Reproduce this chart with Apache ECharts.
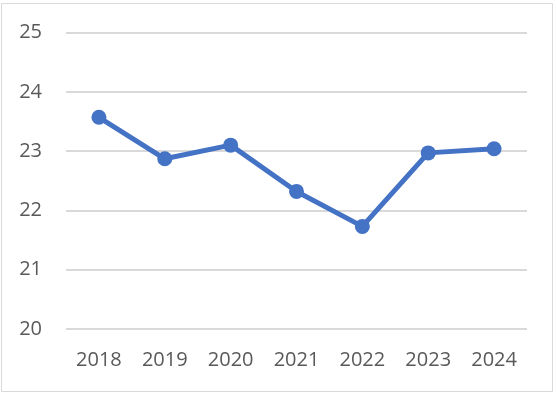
<!DOCTYPE html>
<html>
<head>
<meta charset="utf-8">
<script src="https://cdn.jsdelivr.net/npm/echarts@6/dist/echarts.min.js"></script>
<style>html,body{margin:0;padding:0;background:#fff;}#c{width:557px;height:394px;}</style>
</head>
<body>
<div id="c"></div>
<script>
var categories = ['2018','2019','2020','2021','2022','2023','2024'];
var values = [23.57, 22.87, 23.10, 22.32, 21.73, 22.97, 23.04];
var yTicks = [20, 21, 22, 23, 24, 25];

var chart = echarts.init(document.getElementById('c'));
chart.setOption({
  animation: false,
  backgroundColor: '#ffffff',
  graphic: [{
    type: 'rect',
    shape: {x: 1.5, y: 3.5, width: 551, height: 388},
    style: {fill: 'none', stroke: '#d9d9d9', lineWidth: 1},
    silent: true
  }],
  grid: {left: 66, right: 30, top: 32.5, bottom: 65, containLabel: false},
  xAxis: {
    type: 'category',
    data: categories,
    boundaryGap: true,
    axisLine: {show: false},
    axisTick: {show: false},
    axisLabel: {color: '#595959', fontSize: 20, fontFamily: 'Open Sans', margin: 21}
  },
  yAxis: {
    type: 'value',
    min: yTicks[0],
    max: yTicks[yTicks.length - 1],
    interval: 1,
    axisLine: {show: false},
    axisTick: {show: false},
    axisLabel: {color: '#595959', fontSize: 20, fontFamily: 'Open Sans', margin: 24},
    splitLine: {lineStyle: {color: '#d9d9d9', width: 2}}
  },
  series: [{
    type: 'line',
    data: values,
    symbol: 'circle',
    symbolSize: 15,
    lineStyle: {color: '#4472C4', width: 5},
    itemStyle: {color: '#4472C4'}
  }]
});
</script>
</body>
</html>
